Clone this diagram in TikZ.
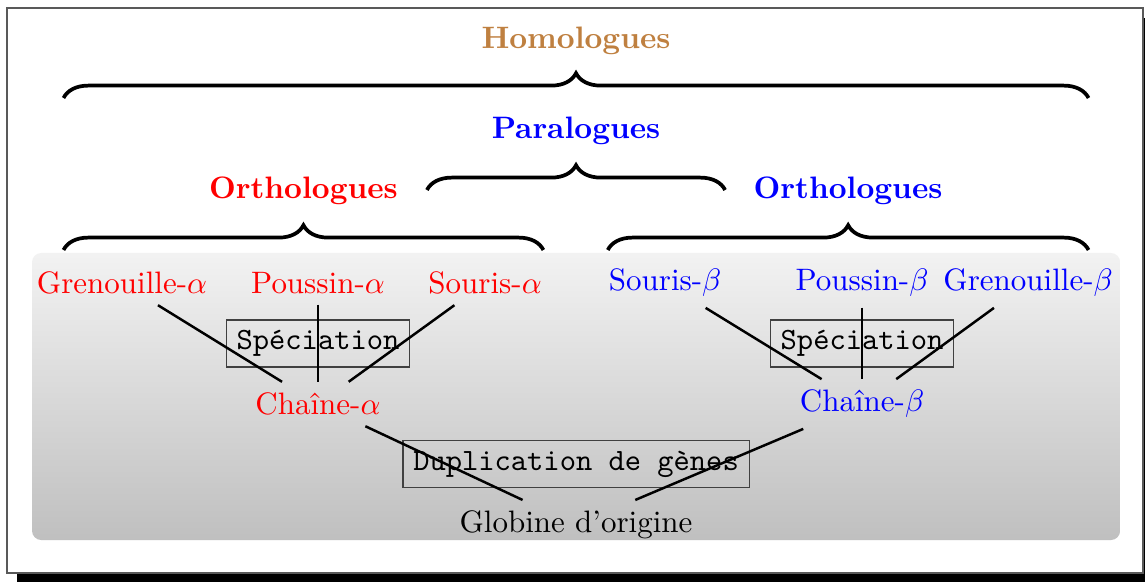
\documentclass[tikz,border=0pt]{standalone}
\usepackage{amsmath,amssymb}
\usepackage{tikz}
\usetikzlibrary{positioning,decorations.pathreplacing}

\begin{document}
\begin{tikzpicture}[scale=1.0,
    gene/.style={font=\normalsize},
    eventbox/.style={draw=black!75, font=\ttfamily},
    tie/.style={thick, black},
    bracket/.style={decorate, decoration={brace, amplitude=8pt}, very thick},
    group/.style={font=\bfseries}]
    \useasboundingbox (0,0) rectangle (12.98,6.587);
    % frame with shadow and shaded background
    \fill[black] (0.192,-0.1) rectangle (13.1,6.384);
    \draw[black!65, line width=0.5pt, fill=white] (0.079,0.091) rectangle (12.959,6.497);
    \shade[top color=black!5, bottom color=black!25, rounded corners=3pt] (0.363,0.465) rectangle (12.698,3.719);
        % events
        \node[eventbox] (speca) at (3.605,2.693) {Spéciation};
        \node[eventbox] (specb) at (9.773,2.693) {Spéciation};
        \node[eventbox] (dup) at (6.53,1.327) {Duplication de gènes};
        % genes
        \node[gene, red] (gra) at (1.383,3.379) {Grenouille-$\alpha$};
        \node[gene, red] (poa) at (3.605,3.379) {Poussin-$\alpha$};
        \node[gene, red] (soa) at (5.499,3.379) {Souris-$\alpha$};
        \node[gene, blue] (sob) at (7.540,3.379) {Souris-$\beta$};
        \node[gene, blue] (pob) at (9.773,3.379) {Poussin-$\beta$};
        \node[gene, blue] (grb) at (11.655,3.379) {Grenouille-$\beta$};
        \node[gene, red] (cha) at (3.605,2.007) {Chaîne-$\alpha$};
        \node[gene, blue] (chb) at (9.773,2.007) {Chaîne-$\beta$};
        \node[gene] (orig) at (6.53,0.635) {Globine d'origine};
        \draw[tie] (gra) -- (cha);
        \draw[tie] (poa) -- (cha);
        \draw[tie] (soa) -- (cha);
        \draw[tie] (sob) -- (chb);
        \draw[tie] (pob) -- (chb);
        \draw[tie] (grb) -- (chb);
        \draw[tie] (cha) -- (orig);
        \draw[tie] (chb) -- (orig);
        % braces and groups
        \coordinate (oral) at (0.72,3.753);
        \coordinate (orar) at (6.16,3.753);
        \coordinate (orbl) at (6.89,3.753);
        \coordinate (orbr) at (12.34,3.753);
        \coordinate (pal) at (4.84,4.433);
        \coordinate (par) at (8.22,4.433);
        \coordinate (hol) at (0.72,5.476);
        \coordinate (hor) at (12.34,5.476);
        \draw[bracket] (oral) -- (orar);
        \draw[bracket] (orbl) -- (orbr);
        \draw[bracket] (pal) -- (par);
        \draw[bracket] (hol) -- (hor);
        \node[group, red] (ora) at (3.44,4.42) {Orthologues};
        \node[group, blue] (orb) at (9.614,4.42) {Orthologues};
        \node[group, blue] (para) at (6.53,5.102) {Paralogues};
        \node[group, brown] (homo) at (6.53,6.122) {Homologues};
\end{tikzpicture}
\end{document}
